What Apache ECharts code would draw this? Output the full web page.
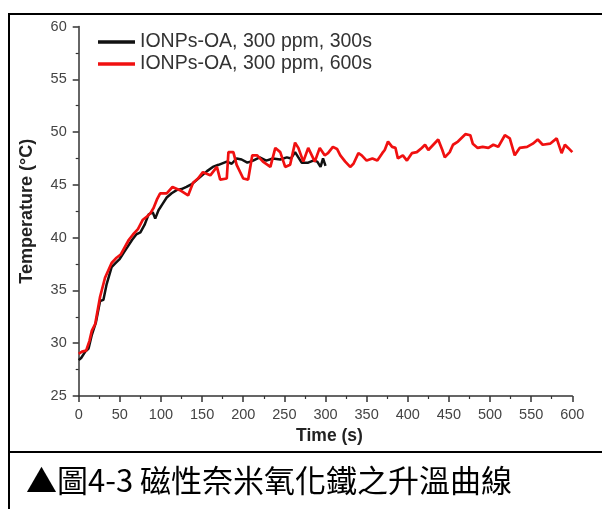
<!DOCTYPE html>
<html>
<head>
<meta charset="utf-8">
<script src="https://cdn.jsdelivr.net/npm/echarts@6/dist/echarts.min.js"></script>
<style>
html,body{margin:0;padding:0;background:#fff;}
#chart{width:602px;height:509px;}
</style>
</head>
<body>
<div id="chart"></div>
<script>
const seriesNames = ['IONPs-OA, 300 ppm, 300s', 'IONPs-OA, 300 ppm, 600s'];
const xTicks = [0,50,100,150,200,250,300,350,400,450,500,550,600];
const yTicks = [25,30,35,40,45,50,55,60];
const caption = '▲圖4-3 磁性奈米氧化鐵之升溫曲線';

const blackTime = [0,3,8,12,16,21,26,30,34,40,45,50,55,60,65,70,75,80,85,90,93,97,102,107,113,119,125,131,138,144,150,156,163,170,180,186,192,198,205,212,220,228,236,245,253,258,263,267,271,279,285,290,294,297,300];
const blackTemp = [28.4,28.6,29.2,29.5,30.8,32.0,34.0,34.1,35.6,37.2,37.6,38.0,38.6,39.2,39.8,40.3,40.5,41.2,42.2,42.4,41.8,42.6,43.2,43.8,44.2,44.5,44.6,44.8,45.1,45.5,45.9,46.3,46.7,46.9,47.2,47.0,47.5,47.4,47.1,47.3,47.6,47.3,47.5,47.4,47.6,47.5,48.1,47.6,47.1,47.1,47.3,47.2,46.7,47.5,46.8];

const redTime = [0,4,9,13,16,20,26,32,40,46,51,56,61,66,72,78,83,87,91,95,99,107,114,123,133,139,145,151,160,168,172,180,182,188,192,200,206,211,217,224,233,239,245,251,257,263,267,273,279,287,293,299,303,309,314,318,324,330,334,340,344,350,357,363,369,372,376,381,385,388,394,399,405,411,417,421,425,431,437,442,445,451,455,461,470,476,479,485,491,498,504,510,518,524,530,536,545,552,558,564,573,581,587,591,595,600];
const redTemp = [29.0,29.2,29.3,30.2,31.2,31.8,34.4,36.2,37.6,38.1,38.4,39.1,39.8,40.3,40.8,41.7,42.0,42.3,42.8,43.6,44.2,44.2,44.8,44.5,44.0,45.2,45.6,46.2,45.9,46.7,45.5,45.6,48.1,48.1,46.9,45.6,45.5,47.8,47.8,47.2,46.7,48.5,48.1,46.7,46.9,49.0,48.5,47.2,48.5,47.2,48.5,47.8,48.0,48.6,48.4,47.8,47.2,46.7,47.0,48.0,47.8,47.3,47.5,47.3,48.0,48.3,49.1,48.6,48.5,47.5,47.8,47.3,48.0,48.1,48.5,48.8,48.3,48.8,49.3,48.3,47.6,48.1,48.8,49.1,49.8,49.7,48.9,48.5,48.6,48.5,48.8,48.6,49.7,49.4,47.8,48.5,48.6,48.9,49.3,48.8,48.9,49.4,48.0,48.8,48.5,48.1];

const blackData = blackTime.map((t, i) => [t, blackTemp[i]]);
const redData = redTime.map((t, i) => [t, redTemp[i]]);

const chart = echarts.init(document.getElementById('chart'), null, {renderer: 'canvas'});
const latin = '"Liberation Sans", Arial, sans-serif';
chart.setOption({
  animation: false,
  backgroundColor: '#fff',
  title: {
    text: caption,
    left: 21,
    top: 460,
    textStyle: {fontFamily: '"Noto Sans CJK TC", sans-serif', fontSize: 31, fontWeight: 'normal', color: '#000'}
  },
  legend: {
    orient: 'vertical',
    left: 93,
    top: 27,
    itemWidth: 37,
    itemHeight: 3.5,
    itemGap: 2,
    itemTextGap: 13,
    icon: 'rect',
    textStyle: {fontFamily: latin, fontSize: 19.5, color: '#333'},
    data: seriesNames
  },
  grid: {left: 78.7, right: 29.7, top: 26.5, bottom: 113, containLabel: false},
  xAxis: {
    type: 'value', min: 0, max: 600, interval: 50,
    name: 'Time (s)', nameLocation: 'middle', nameGap: 30,
    nameTextStyle: {fontFamily: latin, fontSize: 17.5, fontWeight: 'bold', color: '#222', padding: [0, 0, 0, 8]},
    axisLine: {show: true, lineStyle: {color: '#333', width: 1.5}},
    axisTick: {show: true, inside: false, length: 6, lineStyle: {color: '#333', width: 1.5}},
    minorTick: {show: true, splitNumber: 2, length: 3, lineStyle: {color: '#333', width: 1.2}},
    axisLabel: {fontFamily: latin, fontSize: 14.5, color: '#444', margin: 11,
      formatter: v => xTicks.includes(v) ? String(v) : ''},
    splitLine: {show: false}
  },
  yAxis: {
    type: 'value', min: 25, max: 60, interval: 5,
    name: 'Temperature (°C)', nameLocation: 'middle', nameGap: 43,
    nameTextStyle: {fontFamily: latin, fontSize: 18, fontWeight: 'bold', color: '#222'},
    axisLine: {show: true, lineStyle: {color: '#333', width: 1.5}},
    axisTick: {show: true, inside: false, length: 6, lineStyle: {color: '#333', width: 1.5}},
    minorTick: {show: true, splitNumber: 2, length: 3, lineStyle: {color: '#333', width: 1.2}},
    axisLabel: {fontFamily: latin, fontSize: 14.5, color: '#444', margin: 12,
      formatter: v => yTicks.includes(v) ? String(v) : ''},
    splitLine: {show: false}
  },
  graphic: [
    {type: 'line', shape: {x1: 8, y1: 14, x2: 602, y2: 14}, style: {stroke: '#000', lineWidth: 2}},
    {type: 'line', shape: {x1: 9, y1: 13, x2: 9, y2: 509}, style: {stroke: '#000', lineWidth: 2}},
    {type: 'line', shape: {x1: 8, y1: 452, x2: 602, y2: 452}, style: {stroke: '#000', lineWidth: 2}}
  ],
  series: [
    {name: seriesNames[0], type: 'line', data: blackData, showSymbol: false, symbol: 'none',
      lineStyle: {color: '#111', width: 2.5}, itemStyle: {color: '#111'}, z: 2},
    {name: seriesNames[1], type: 'line', data: redData, showSymbol: false, symbol: 'none',
      lineStyle: {color: '#f01010', width: 2.7}, itemStyle: {color: '#f01010'}, z: 3}
  ]
});
</script>
</body>
</html>
